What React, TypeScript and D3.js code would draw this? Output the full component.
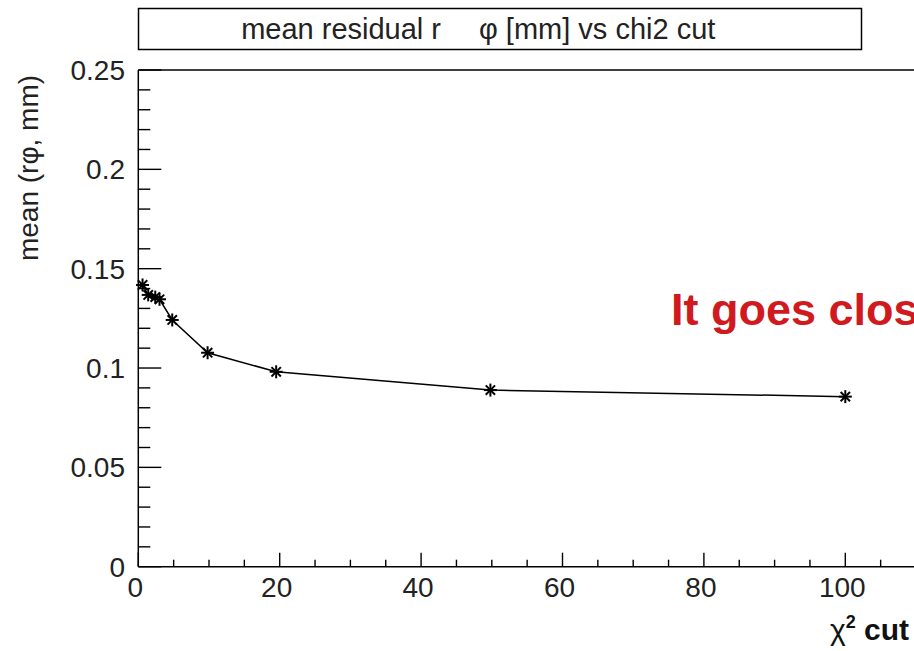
import React from "react";
import * as d3 from "d3";

// chi2 cut values and mean r-phi residual at each cut
const chi2Cuts = [0.6, 1.4, 2.4, 3.0, 4.8, 9.8, 19.5, 49.8, 100];
const meanResidual = [0.1418, 0.1368, 0.1357, 0.1346, 0.1242, 0.1077, 0.0981, 0.0889, 0.0856];

const xMajorTicks = [0, 20, 40, 60, 80, 100];
const yMajorTicks = [0, 0.05, 0.1, 0.15, 0.2, 0.25];
const yTickLabels = ["0", "0.05", "0.1", "0.15", "0.2", "0.25"];

const W = 914;
const H = 651;
const FONT = "'Liberation Sans', Arial, Helvetica, sans-serif";

export default function App() {
  const x = d3.scaleLinear().domain([0, 110]).range([138.3, 138.3 + 7.07 * 110]);
  const y = d3.scaleLinear().domain([0, 0.25]).range([566.7, 70]);

  const xMinor = d3.range(0, 111, 5);
  const yMinor = d3.range(0, 0.2501, 0.01);

  const line = d3
    .line<number>()
    .x((_, i) => x(chi2Cuts[i]))
    .y((d) => y(d));

  const marker = (cx: number, cy: number, k: number) => {
    const r = 6.5;
    const d = r * 0.72;
    return (
      <g key={k} stroke="#000" strokeWidth={2}>
        <line x1={cx - r} y1={cy} x2={cx + r} y2={cy} />
        <line x1={cx} y1={cy - r} x2={cx} y2={cy + r} />
        <line x1={cx - d} y1={cy - d} x2={cx + d} y2={cy + d} />
        <line x1={cx - d} y1={cy + d} x2={cx + d} y2={cy - d} />
      </g>
    );
  };

  const x0 = x(0);
  const yb = y(0);
  const yt = y(0.25);

  return (
    <svg
      width={W}
      height={H}
      viewBox={`0 0 ${W} ${H}`}
      style={{ position: "absolute", left: 0, top: 0, background: "#fff" }}
      fontFamily={FONT}
    >
      <rect x={0} y={0} width={W} height={H} fill="#fff" />

      {/* title box */}
      <rect x={138.5} y={8.5} width={723} height={41} fill="#fff" stroke="#000" strokeWidth={1.5} />
      <text x={441} y={39} fontSize={29} textAnchor="end" fill="#222">
        mean residual r
      </text>
      <text x={479} y={39} fontSize={29} textAnchor="start" fill="#222">
        φ [mm] vs chi2 cut
      </text>

      {/* frame */}
      <line x1={x0} y1={yt} x2={W} y2={yt} stroke="#000" strokeWidth={1.5} />
      <line x1={x0} y1={yt} x2={x0} y2={yb} stroke="#000" strokeWidth={1.5} />
      <line x1={x0} y1={yb} x2={W} y2={yb} stroke="#000" strokeWidth={1.5} />

      {/* y ticks */}
      {yMinor.map((v, i) => {
        const major = yMajorTicks.some((t) => Math.abs(t - v) < 1e-6);
        return (
          <line
            key={"ym" + i}
            x1={x0}
            x2={x0 + (major ? 23 : 12)}
            y1={y(v)}
            y2={y(v)}
            stroke="#000"
            strokeWidth={1.4}
          />
        );
      })}
      {yMajorTicks.map((v, i) => (
        <text key={"yl" + i} x={125} y={y(v) + 10} fontSize={28} textAnchor="end" fill="#222">
          {yTickLabels[i]}
        </text>
      ))}

      {/* x ticks */}
      {xMinor.map((v, i) => {
        const major = v % 20 === 0;
        return (
          <line
            key={"xm" + i}
            x1={x(v)}
            x2={x(v)}
            y1={yb}
            y2={yb - (major ? 14 : 7)}
            stroke="#000"
            strokeWidth={1.4}
          />
        );
      })}
      {xMajorTicks.map((v, i) => (
        <text key={"xl" + i} x={x(v) - 3} y={597} fontSize={28} textAnchor="middle" fill="#222">
          {String(v)}
        </text>
      ))}

      {/* axis titles */}
      <text
        transform={`translate(38, 168) rotate(-90)`}
        fontSize={28}
        textAnchor="middle"
        fill="#222"
      >
        mean (rφ, mm)
      </text>
      <text x={909} y={640} fontSize={30} textAnchor="end" fill="#111">
        <tspan>χ</tspan>
        <tspan fontSize={18} dy={-12} fontWeight="bold">2</tspan>
        <tspan dy={12} fontWeight="bold"> cut</tspan>
      </text>

      {/* data */}
      <path d={line(meanResidual) || ""} fill="none" stroke="#000" strokeWidth={1.5} />
      {meanResidual.map((v, i) => marker(x(chi2Cuts[i]), y(v), i))}

      {/* annotation */}
      <text x={671} y={325} fontSize={45} fontWeight="bold" fill="#d01a20">
        It goes close
      </text>
    </svg>
  );
}
